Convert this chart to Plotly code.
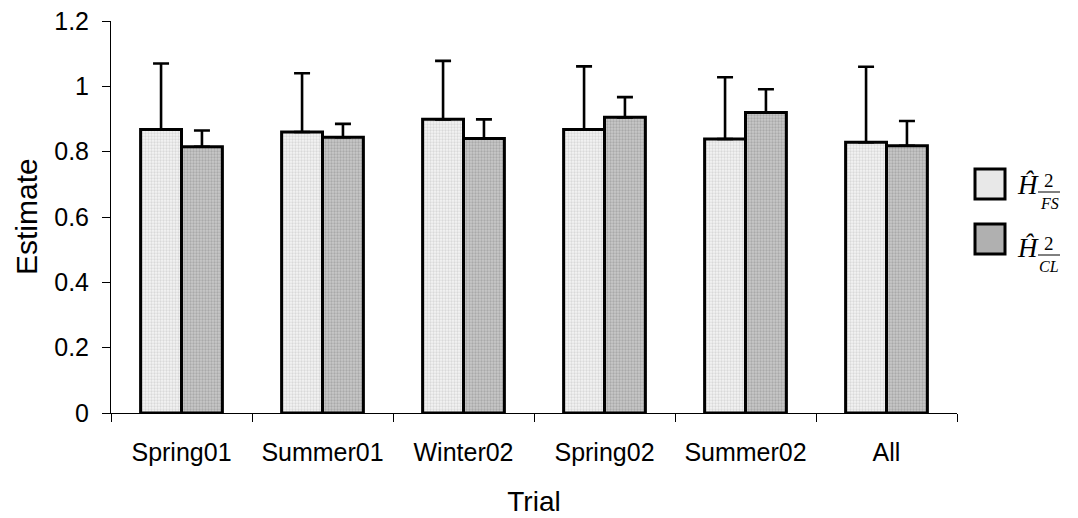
import plotly.graph_objects as go

# ---- data ----
trials = ["Spring01", "Summer01", "Winter02", "Spring02", "Summer02", "All"]
h2_fs = [0.868, 0.860, 0.899, 0.868, 0.839, 0.829]
h2_fs_err = [0.202, 0.180, 0.179, 0.193, 0.189, 0.231]
h2_cl = [0.815, 0.844, 0.840, 0.905, 0.920, 0.818]
h2_cl_err = [0.050, 0.041, 0.059, 0.062, 0.071, 0.076]
y_ticks = [0, 0.2, 0.4, 0.6, 0.8, 1.0, 1.2]
y_tick_text = ["0", "0.2", "0.4", "0.6", "0.8", "1", "1.2"]

OFF = 8  # default page body margin in the browser
W, H = 1078 - OFF, 518 - OFF
L, R, T, B = 111, 957, 21, 413  # plot area in screen pixels


def px(x):
    return (x - L) / (R - L)


def py(y):
    return (B - y) / (B - T)


SANS = "Arial, Liberation Sans, sans-serif"
SERIF = "Times New Roman, Liberation Serif, serif"

fig = go.Figure()
fig.add_trace(go.Bar(
    x=trials, y=h2_fs, name="H FS",
    marker=dict(color="#ececec", line=dict(color="black", width=3),
                pattern=dict(shape=".", bgcolor="#f4f4f4", fgcolor="#bdbdbd",
                             size=3, solidity=0.45)),
    error_y=dict(type="data", symmetric=False, array=h2_fs_err,
                 arrayminus=[0] * len(h2_fs_err), color="black",
                 thickness=2.6, width=8),
))
fig.add_trace(go.Bar(
    x=trials, y=h2_cl, name="H CL",
    marker=dict(color="#b8b8b8", line=dict(color="black", width=3),
                pattern=dict(shape=".", bgcolor="#c8c8c8", fgcolor="#8a8a8a",
                             size=3, solidity=0.45)),
    error_y=dict(type="data", symmetric=False, array=h2_cl_err,
                 arrayminus=[0] * len(h2_cl_err), color="black",
                 thickness=2.6, width=8),
))

fig.update_layout(
    width=W, height=H,
    margin=dict(l=L - OFF, r=W - (R - OFF), t=T - OFF, b=H - (B - OFF), pad=0),
    paper_bgcolor="white", plot_bgcolor="white",
    barmode="group", bargap=0.42, bargroupgap=0,
    showlegend=False,
    font=dict(family=SANS, color="black", size=25),
)
fig.update_xaxes(
    type="category", range=[-0.5, 5.5], automargin=False,
    showline=True, linecolor="black", linewidth=1,
    ticks="outside", tickson="boundaries", ticklen=8, tickcolor="black",
    tickwidth=1, showgrid=False, zeroline=False,
    tickfont=dict(family=SANS, size=25, color="black"),
    ticklabelstandoff=17, ticklabeloverflow="allow",
    title=dict(text="Trial", font=dict(family=SANS, size=28, color="black"),
               standoff=26),
)
fig.update_yaxes(
    range=[0, 1.2], tickvals=y_ticks, ticktext=y_tick_text, automargin=False,
    showline=True, linecolor="black", linewidth=1,
    ticks="outside", ticklen=8, tickcolor="black", tickwidth=1,
    showgrid=False, zeroline=False,
    tickfont=dict(family=SANS, size=25, color="black"),
    ticklabelstandoff=8, ticklabeloverflow="allow",
)

# y-axis title placed precisely
fig.add_annotation(xref="paper", yref="paper", x=px(26), y=py(217),
                   text="Estimate", textangle=-90, showarrow=False,
                   xanchor="center", yanchor="middle",
                   font=dict(family=SANS, size=30, color="black"))

# ---- custom legend (swatches + stacked-fraction labels) ----
swatches = [("#e8e8e8", 169), ("#b0b0b0", 224)]
for col, top in swatches:
    fig.add_shape(type="rect", xref="paper", yref="paper",
                  x0=px(975), x1=px(1005), y0=py(top), y1=py(top + 30),
                  fillcolor=col, line=dict(color="black", width=3))

labels = [("FS", 0), ("CL", 63)]
for sub, dy in labels:
    fig.add_annotation(xref="paper", yref="paper", x=px(1028), y=py(185 + dy),
                       text="<i>Ĥ</i>", showarrow=False, xanchor="center",
                       yanchor="middle",
                       font=dict(family=SERIF, size=27, color="black"))
    fig.add_annotation(xref="paper", yref="paper", x=px(1049), y=py(180 + dy),
                       text="2", showarrow=False, xanchor="center",
                       yanchor="middle",
                       font=dict(family=SERIF, size=19, color="black"))
    fig.add_shape(type="line", xref="paper", yref="paper",
                  x0=px(1038), x1=px(1060), y0=py(192 + dy), y1=py(192 + dy),
                  line=dict(color="black", width=1))
    fig.add_annotation(xref="paper", yref="paper", x=px(1049), y=py(203 + dy),
                       text="<i>" + sub + "</i>", showarrow=False,
                       xanchor="center", yanchor="middle",
                       font=dict(family=SERIF, size=16, color="black"))

fig.write_html("out.html")
